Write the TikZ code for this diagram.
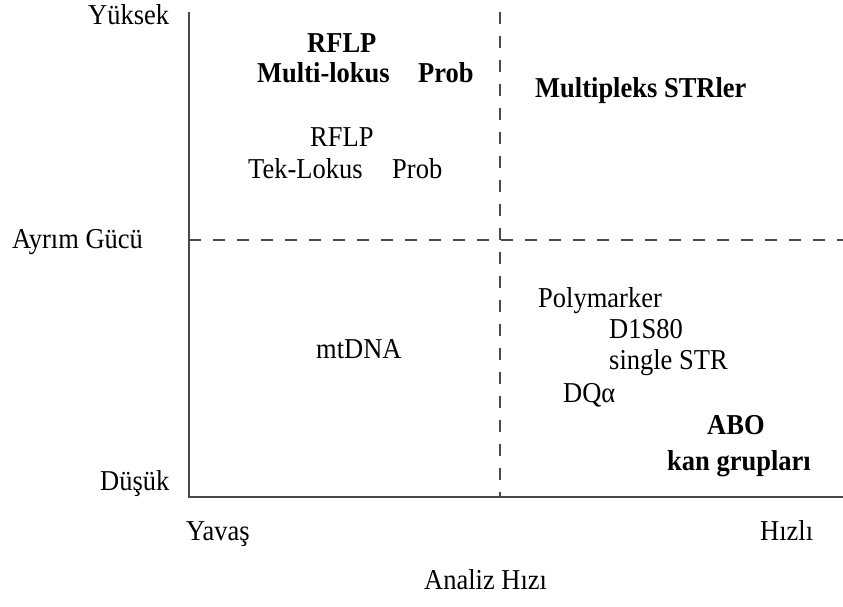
\documentclass[tikz,border=0pt]{standalone}
\usepackage{fontspec}
\setmainfont{Liberation Serif}[FakeStretch=0.92]
\definecolor{axisgray}{HTML}{4A4A4A}
\begin{document}
\begin{tikzpicture}[x=1pt,y=-1pt,
  axis/.style={draw=axisgray, line width=2pt},
  divider/.style={draw=axisgray, line width=1.8pt, dash pattern=on 12pt off 12pt},
  lbl/.style={anchor=base west, inner sep=0pt, font=\fontsize{28.8}{32}\selectfont},
  blbl/.style={lbl, font=\fontsize{28.8}{32}\selectfont\bfseries}]
\useasboundingbox (0,0) rectangle (843,606);

% frame points
\coordinate (ytop) at (189,12);
\coordinate (orig) at (189,497);
\coordinate (xend) at (843,497);
\coordinate (midl) at (189,240);
\coordinate (midr) at (843,240);
\coordinate (vtop) at (500,12);
\coordinate (vbot) at (500,497);

% quadrant dividers
\draw[divider] (midl) -- (midr);
\draw[divider] (vtop) -- (vbot);

% axes
\draw[axis] (ytop) -- (orig) -- (xend);

% vertical axis labels
\node[lbl] (yhigh) at (88,24) {Yüksek};
\node[lbl] (ymid) at (12,248) {Ayrım Gücü};
\node[lbl] (ylow) at (100,490) {Düşük};

% horizontal axis labels
\node[lbl] (xslow) at (186,540) {Yavaş};
\node[lbl] (xfast) at (760,540) {Hızlı};
\node[lbl] (xtitle) at (424,589) {Analiz Hızı};

% upper left quadrant
\node[blbl] (rflpm) at (307,52) {RFLP};
\node[blbl] (multi) at (257,82) {Multi-lokus};
\node[blbl] (probm) at (418,82) {Prob};
\node[lbl] (rflpt) at (310,146) {RFLP};
\node[lbl] (tek) at (248,178) {Tek-Lokus};
\node[lbl] (probt) at (392,178) {Prob};

% upper right quadrant
\node[blbl] (mstr) at (535,97) {Multipleks STRler};

% lower left quadrant
\node[lbl] (mt) at (316,358) {mtDNA};

% lower right quadrant
\node[lbl] (poly) at (538,307) {Polymarker};
\node[lbl] (d1s) at (609,338) {D1S80};
\node[lbl] (sstr) at (609,369) {single STR};
\node[lbl] (dq) at (563,402) {DQα};
\node[blbl] (abo) at (707,434) {ABO};
\node[blbl] (kan) at (667,470) {kan grupları};
\end{tikzpicture}
\end{document}
